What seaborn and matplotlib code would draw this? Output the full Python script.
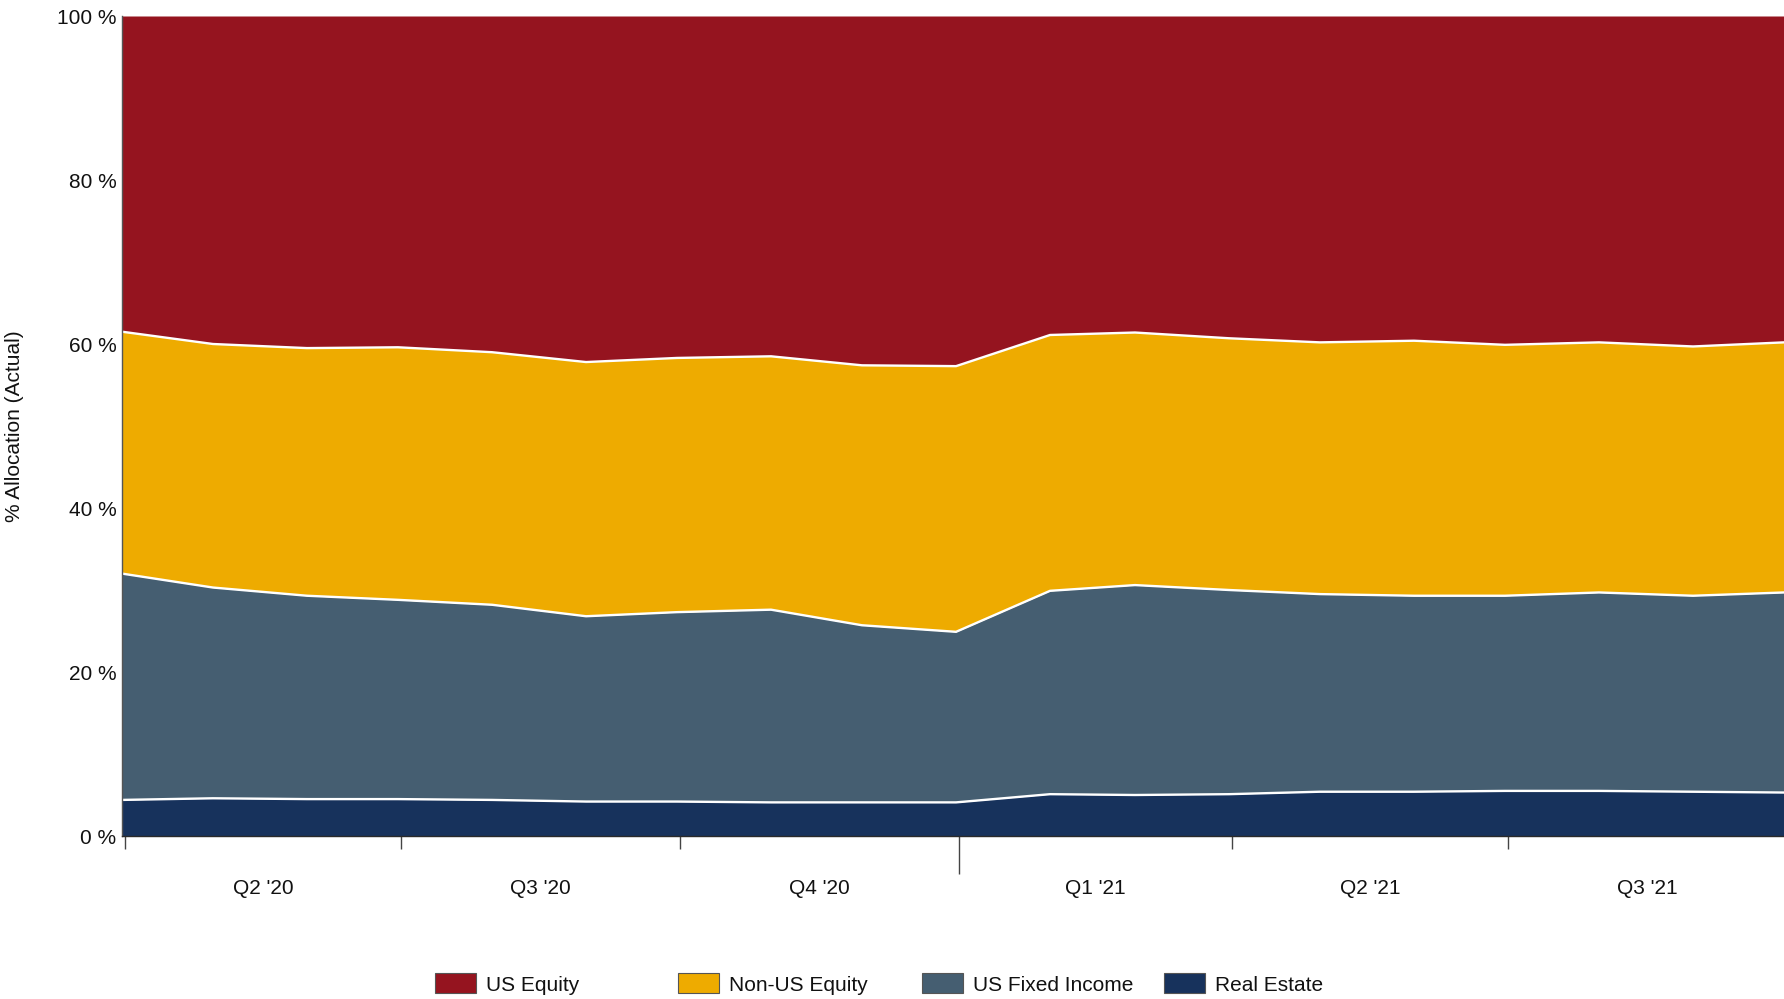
import numpy as np
import pandas as pd
import matplotlib
matplotlib.use("Agg")
import matplotlib.pyplot as plt
import matplotlib.dates as mdates
import seaborn as sns
from matplotlib.patches import Patch

# ---------------- data ----------------
month_ends = ["2020-03-31", "2020-04-30", "2020-05-31", "2020-06-30", "2020-07-31",
              "2020-08-31", "2020-09-30", "2020-10-31", "2020-11-30", "2020-12-31",
              "2021-01-31", "2021-02-28", "2021-03-31", "2021-04-30", "2021-05-31",
              "2021-06-30", "2021-07-31", "2021-08-31", "2021-09-30"]
real_estate = [4.4, 4.6, 4.5, 4.5, 4.4, 4.2, 4.2, 4.1, 4.1, 4.1,
               5.1, 5.0, 5.1, 5.4, 5.4, 5.5, 5.5, 5.4, 5.3]
us_fixed_income = [27.6, 25.7, 24.8, 24.3, 23.8, 22.6, 23.1, 23.5, 21.6, 20.8,
                   24.8, 25.6, 24.9, 24.1, 23.9, 23.8, 24.2, 23.9, 24.4]
non_us_equity = [29.5, 29.7, 30.2, 30.8, 30.8, 31.0, 31.0, 30.9, 31.7, 32.4,
                 31.2, 30.8, 30.7, 30.7, 31.1, 30.6, 30.5, 30.4, 30.5]
us_equity = [38.5, 40.0, 40.5, 40.4, 41.0, 42.2, 41.7, 41.5, 42.6, 42.7,
             38.9, 38.6, 39.3, 39.8, 39.6, 40.1, 39.8, 40.3, 39.8]
series_names = ["Real Estate", "US Fixed Income", "Non-US Equity", "US Equity"]
quarter_starts = ["2020-04-01", "2020-07-01", "2020-10-01", "2021-01-01",
                  "2021-04-01", "2021-07-01", "2021-10-01"]
quarter_labels = ["Q2 '20", "Q3 '20", "Q4 '20", "Q1 '21", "Q2 '21", "Q3 '21"]
y_ticks = [0, 20, 40, 60, 80, 100]

colors = {"US Equity": "#95141f", "Non-US Equity": "#eeab00",
          "US Fixed Income": "#455e71", "Real Estate": "#17325c"}

# ---------------- style ----------------
sns.set_theme(style="white")
plt.rcParams["font.family"] = ["Liberation Sans", "DejaVu Sans"]
FS = 15

fig = plt.figure(figsize=(17.84, 9.99), dpi=100)
ax = fig.add_axes([122 / 1784, 1 - 836 / 999, 1 - 122 / 1784, (836 - 16) / 999])

dates = pd.to_datetime(month_ends)
x = mdates.date2num(dates)
stack = np.vstack([real_estate, us_fixed_income, non_us_equity, us_equity])
ax.stackplot(x, stack, colors=[colors[n] for n in series_names],
             linewidth=0, antialiased=True)

# white boundaries between layers
cum = np.cumsum(stack, axis=0)
bdf = pd.DataFrame({"x": np.tile(x, 3),
                    "y": np.concatenate([cum[0], cum[1], cum[2]]),
                    "b": np.repeat(["b1", "b2", "b3"], len(x))})
sns.lineplot(data=bdf, x="x", y="y", units="b", estimator=None, color="white",
             linewidth=1.7, ax=ax, legend=False)

ax.set_xlim(x[0], x[-1])
ax.set_ylim(0, 100)

# axes
for s in ["top", "right"]:
    ax.spines[s].set_visible(False)
ax.spines["left"].set_color("#555555")
ax.spines["bottom"].set_color("#2a2a2a")
ax.spines["left"].set_linewidth(1.0)
ax.spines["bottom"].set_linewidth(1.0)

ax.set_yticks(y_ticks)
ax.set_yticklabels([f"{v} %" for v in y_ticks])
ax.tick_params(axis="y", length=0, pad=4, labelsize=FS, labelcolor="#111111")

qs = mdates.date2num(pd.to_datetime(quarter_starts))
ax.set_xticks(qs[:-1])
ax.set_xticklabels([])
ax.set_xticks((qs[:-1] + qs[1:]) / 2, minor=True)
ax.set_xticklabels(quarter_labels, minor=True)
ax.tick_params(axis="x", which="major", bottom=True, length=9.5, width=1,
               color="#444444", direction="out")
ax.tick_params(axis="x", which="minor", bottom=True, length=0, pad=31,
               labelsize=FS, labelcolor="#111111")
ax.xaxis.get_major_ticks()[0].tick1line.set_color("#9a9a9a")
mid_tick = ax.xaxis.get_major_ticks()[3]
mid_tick.tick1line.set_markersize(27)
mid_tick.tick1line.set_color("#222222")

ax.set_xlabel("")
ax.set_ylabel("% Allocation (Actual)", fontsize=FS, color="#111111")
ax.yaxis.label.set_va("center")
ax.yaxis.set_label_coords(-108 / (1784 - 122), 0.5)

# legend: one entry per column, evenly spaced
legend_order = ["US Equity", "Non-US Equity", "US Fixed Income", "Real Estate"]
legend_x = [435, 678, 922, 1164]
for name, lx in zip(legend_order, legend_x):
    fig.legend(handles=[Patch(facecolor=colors[name], edgecolor="#555555", linewidth=0.8)],
               labels=[name], loc="center left", bbox_to_anchor=(lx / 1784, 1 - 984 / 999),
               frameon=False, fontsize=FS, labelcolor="#111111", borderpad=0, borderaxespad=0,
               handlelength=1.95, handleheight=1.1, handletextpad=0.5)

fig.savefig("out.png", dpi=100)
